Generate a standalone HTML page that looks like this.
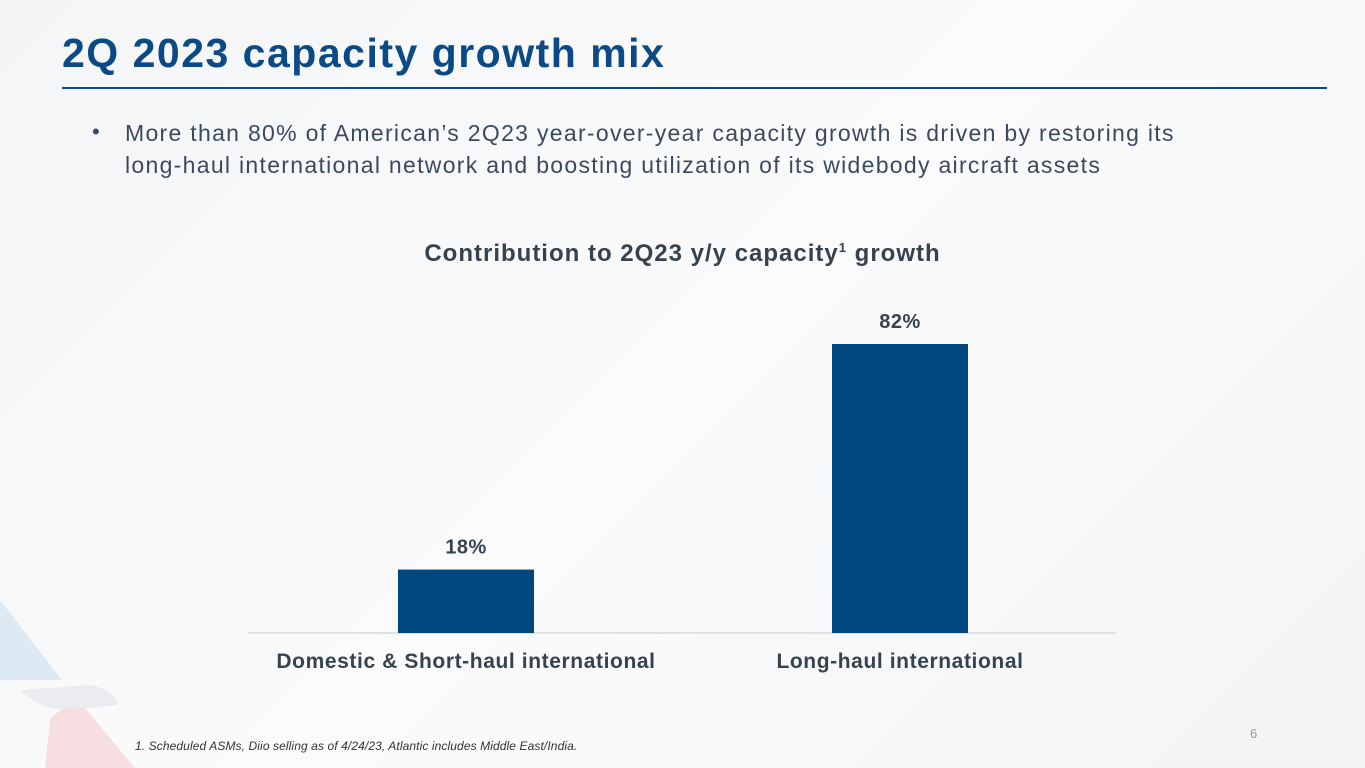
<!DOCTYPE html>
<html><head><meta charset="utf-8"><style>
body{margin:0;width:1365px;height:768px;overflow:hidden;font-family:"Liberation Sans",sans-serif;background:linear-gradient(135deg,#f4f5f7 0%,#fbfbfc 50%,#f3f4f6 100%);position:relative}
.t{position:absolute;white-space:nowrap}
</style></head><body>
<svg style="position:absolute;left:0;top:560px" width="300" height="208">
<polygon points="0,40 0,120 62,120" fill="#d6e6f1" opacity="0.8"/>
<path d="M20,130 L90,125 Q115,130 118,145 L70,150 Q40,150 20,130Z" fill="#eaecef"/>
<path d="M50,160 Q60,145 85,148 L135,208 L45,208 Z" fill="#f6dade" opacity="0.9"/>
</svg>
<div class="t" style="left:62px;top:30px;font-size:41px;letter-spacing:1.5px;font-weight:bold;color:#0b4a85">2Q 2023 capacity growth mix</div>
<div style="position:absolute;left:62px;top:87px;width:1265px;height:2px;background:#0b4a85"></div>
<div class="t" style="left:92px;top:119px;font-size:22px;color:#3a4a5e">•</div>
<div class="t" style="left:125px;top:117px;font-size:23px;letter-spacing:1.3px;line-height:32px;color:#3a4a5e">More than 80% of American’s 2Q23 year-over-year capacity growth is driven by restoring its<br>long-haul international network and boosting utilization of its widebody aircraft assets</div>
<div class="t" style="left:0;width:1365px;text-align:center;top:240px;font-size:24px;letter-spacing:1px;font-weight:bold;color:#36434f">Contribution to 2Q23 y/y capacity<sup style="font-size:13px">1</sup> growth</div>
<svg id="chart" style="position:absolute;left:0;top:0" width="1365" height="768"></svg>
<div class="t" style="left:135px;top:739px;font-size:12px;letter-spacing:0.1px;font-style:italic;color:#333">1. Scheduled ASMs, Diio selling as of 4/24/23, Atlantic includes Middle East/India.</div>
<div class="t" style="left:1250px;top:726px;font-size:13px;color:#999">6</div>
<script>
const categories=["Domestic & Short-haul international","Long-haul international"];
const values=[18,82];
const labels=["18%","82%"];
const svg=document.getElementById('chart');const NS="http://www.w3.org/2000/svg";
const base=633,pxPer=289/82,x0=248,x1=1116,bw=136;
const band=(x1-x0)/categories.length;
function xc(i){return x0+band*(i+0.5)+1;}
function y(v){return base-v*pxPer;}
function mk(t,a){const e=document.createElementNS(NS,t);for(const k in a)e.setAttribute(k,a[k]);svg.appendChild(e);return e;}
const ax=mk('line',{x1:x0,x2:x1,y1:base,y2:base,stroke:'#d9d9d9','stroke-width':1.5});


categories.forEach((c,i)=>{
const r=mk('rect',{x:xc(i)-bw/2,y:y(values[i]),width:bw,height:base-y(values[i]),fill:'#00467f'});


const l=mk('text',{x:xc(i),y:y(values[i])-16,'text-anchor':'middle','font-size':20,'font-weight':'bold','letter-spacing':0.5,fill:'#36434f','font-family':'Liberation Sans'});l.textContent=labels[i];


const t=mk('text',{x:xc(i),y:668,'text-anchor':'middle','font-size':21,'font-weight':'bold','letter-spacing':0.6,fill:'#36434f','font-family':'Liberation Sans'});t.textContent=c;


});
</script>
</body></html>
